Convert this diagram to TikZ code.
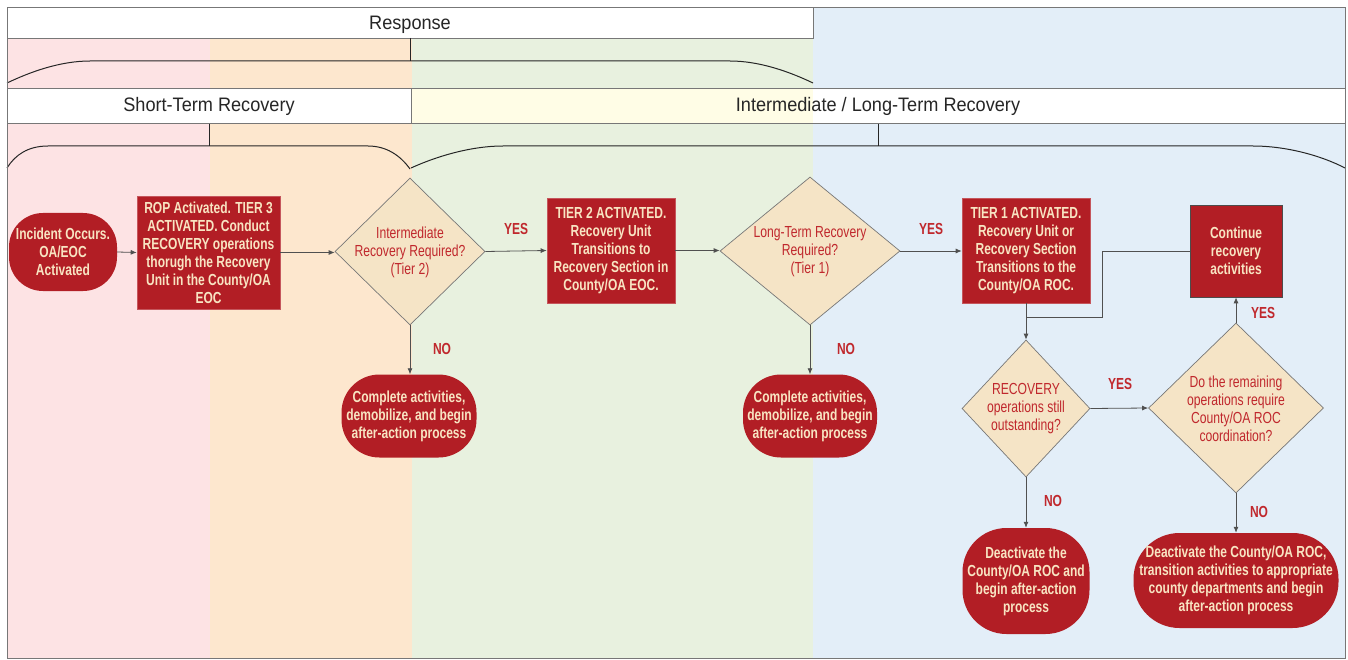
\documentclass[tikz,border=0pt]{standalone}
\usepackage{fontspec}
\setmainfont{Liberation Sans}
\newfontfamily\nf[FakeStretch=0.75]{Liberation Sans}
\newfontfamily\dnf[FakeStretch=0.76]{Liberation Sans}
\newfontfamily\hf[FakeStretch=0.93]{Liberation Sans}
\usetikzlibrary{shapes.geometric,arrows.meta}
\definecolor{dred}{HTML}{B21E25}
\definecolor{cream}{HTML}{F8E4C2}
\definecolor{wheat}{HTML}{F5E4C6}
\definecolor{lred}{HTML}{C0282D}
\definecolor{bpink}{HTML}{FDE3E4}
\definecolor{bpeach}{HTML}{FDE7CE}
\definecolor{bgreen}{HTML}{E8F1DF}
\definecolor{bblue}{HTML}{E3EEF8}
\definecolor{byellow}{HTML}{FFFDE6}
\definecolor{edge}{HTML}{777777}
\definecolor{conn}{HTML}{505050}
\begin{document}
\begin{tikzpicture}[x=1pt,y=-1pt,
  term/.style={rectangle, rounded corners=#1, fill=dred, text=cream,
    font={\nf\bfseries\fontsize{16}{18}\selectfont}, align=center, inner sep=0pt},
  proc/.style={rectangle, fill=dred, draw=dred!75!white, line width=0.6pt, text=cream,
    font={\nf\bfseries\fontsize{16}{18}\selectfont}, align=center, inner sep=0pt},
  dec/.style={diamond, fill=wheat, draw=edge, line width=0.7pt, inner sep=0pt},
  dtext/.style={text=lred, font={\dnf\fontsize{16}{18}\selectfont}, align=center, inner sep=0pt},
  lbl/.style={text=lred, font={\nf\bfseries\fontsize{16}{18}\selectfont}, inner sep=0pt},
  hdr/.style={rectangle, draw=edge, line width=0.7pt, inner sep=0pt},
  htext/.style={font={\hf\fontsize{19.5}{22}\selectfont}, text=black!85, inner sep=0pt, anchor=base},
  arr/.style={draw=conn, line width=0.8pt, -{Latex[length=6pt,width=5pt]}},
  ln/.style={draw=conn, line width=0.8pt},
  brk/.style={draw=black!85, line width=1pt}
]
\useasboundingbox (0,0) rectangle (1348,660);
% background bands
\fill[bpink]  (7,38) rectangle (210,658);
\fill[bpeach] (210,38) rectangle (412,658);
\fill[bgreen] (412,38) rectangle (813,658);
\fill[bblue]  (813,7) rectangle (1345,658);
% header boxes
\node[hdr, fill=white, minimum width=806pt, minimum height=31pt] (resp) at (410,22.5) {};
\node[htext] (resptxt) at (410,30) {Response};
\fill[byellow] (411,88) rectangle (813,123);
\fill[white] (813,88) rectangle (1345,123);
\draw[draw=edge, line width=0.7pt] (411,88) rectangle (1345,123);
\node[hdr, fill=white, minimum width=404pt, minimum height=35pt] (stbox) at (209,105.5) {};
\node[htext] (sttxt) at (209,112) {Short-Term Recovery};
\node[htext] (lttxt) at (878,112) {Intermediate / Long-Term Recovery};
% brackets
\draw[brk] (410,38) -- (410,61);
\draw[brk] (7,83) .. controls (30,72) and (60,61) .. (90,61) -- (730,61)
  .. controls (760,61) and (790,72) .. (813,83);
\draw[brk] (209,124) -- (209,146);
\draw[brk] (7,168) .. controls (15,155) and (28,146) .. (48,146) -- (368,146)
  .. controls (386,146) and (400,155) .. (410,169);
\draw[brk] (878,124) -- (878,146);
\draw[brk] (411,168) .. controls (435,157) and (470,146) .. (503,146) -- (1253,146)
  .. controls (1285,146) and (1320,155) .. (1345,168);
% frame
\draw[draw=edge, line width=0.8pt] (7,7) rectangle (1345,658);

% nodes
\node[term=34pt, minimum width=108pt, minimum height=78pt] (inc) at (63,252) {Incident Occurs.\\OA/EOC\\Activated};
\node[proc, minimum width=143pt, minimum height=113pt] (rop) at (208.5,252.5)
  {ROP Activated. TIER 3\\ACTIVATED. Conduct\\RECOVERY operations\\thorugh the Recovery\\Unit in the County/OA\\EOC};
\node[dec, minimum width=150pt, minimum height=147pt] (d1) at (410,251.5) {};
\node[dtext] (d1t) at (410,252) {Intermediate\\Recovery Required?\\(Tier 2)};
\node[proc, minimum width=128pt, minimum height=105pt] (t2) at (611,250.5)
  {TIER 2 ACTIVATED.\\Recovery Unit\\Transitions to\\Recovery Section in\\County/OA EOC.};
\node[dec, minimum width=180pt, minimum height=148pt] (d2) at (810,251) {};
\node[dtext] (d2t) at (810,252) {Long-Term Recovery\\Required?\\(Tier 1)};
\node[proc, minimum width=128pt, minimum height=105pt] (t1) at (1026,250.5)
  {TIER 1 ACTIVATED.\\Recovery Unit or\\Recovery Section\\Transitions to the\\County/OA ROC.};
\node[proc, draw=black!70, minimum width=92pt, minimum height=92pt] (cont) at (1236,251)
  {Continue\\recovery\\activities};
\node[term=38pt, minimum width=135pt, minimum height=83pt] (c1) at (409,416)
  {Complete activities,\\demobilize, and begin\\after-action process};
\node[term=38pt, minimum width=134pt, minimum height=83pt] (c2) at (810,416)
  {Complete activities,\\demobilize, and begin\\after-action process};
\node[dec, minimum width=128pt, minimum height=137pt] (d3) at (1026,408.5) {};
\node[dtext] (d3t) at (1026,409) {RECOVERY\\operations still\\outstanding?};
\node[dec, minimum width=175pt, minimum height=170pt] (d4) at (1236,408) {};
\node[dtext] (d4t) at (1236,409) {Do the remaining\\operations require\\County/OA ROC\\coordination?};
\node[term=44pt, minimum width=127pt, minimum height=106pt] (da1) at (1026,581)
  {Deactivate the\\County/OA ROC and\\begin after-action\\process};
\node[term=46pt, minimum width=205pt, minimum height=95pt] (da2) at (1236,580.5)
  {Deactivate the County/OA ROC,\\transition activities to appropriate\\county departments and begin\\after-action process};

% labels
\node[lbl] (y1) at (516,229) {YES};
\node[lbl] (y2) at (931,229) {YES};
\node[lbl] (y3) at (1120,384) {YES};
\node[lbl] (y4) at (1263,313) {YES};
\node[lbl] (n1) at (442,349) {NO};
\node[lbl] (n2) at (846,349) {NO};
\node[lbl] (n3) at (1053,501) {NO};
\node[lbl] (n4) at (1259,512) {NO};

% connectors
\coordinate (j) at (1102,317);
\draw[arr] (inc.east) -- (rop.west);
\draw[arr] (rop.east) -- (rop.east -| d1.west);
\draw[arr] (d1.east) -- (t2.west);
\draw[arr] (t2.east) -- (t2.east -| d2.west);
\draw[arr] (d2.east) -- (d2.east -| t1.west);
\draw[arr] (t1.south) -- (d3.north);
\draw[ln] (cont.west) -| (j) -- (j -| t1.south);
\draw[arr] (d3.east) -- (d4.west);
\draw[arr] (d4.north) -- (cont.south);
\draw[arr] (d1.south) -- (d1.south |- c1.north);
\draw[arr] (d2.south) -- (c2.north);
\draw[arr] (d3.south) -- (da1.north);
\draw[arr] (d4.south) -- (da2.north);
\end{tikzpicture}
\end{document}
